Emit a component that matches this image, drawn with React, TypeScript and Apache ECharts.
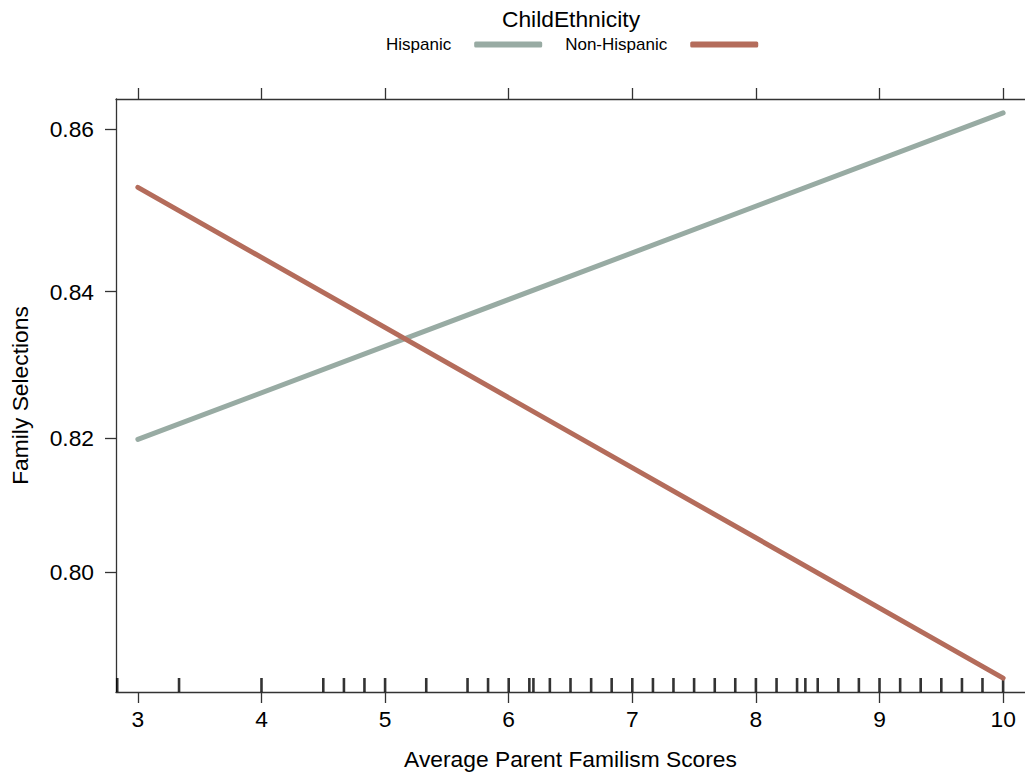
import React, { useEffect, useRef } from "react";
import * as echarts from "echarts";

const xPoints = [3, 10];
const hispanic = [0.8198, 0.8619];
const nonHispanic = [0.8531, 0.7831];
const rugValues = [
  2.833, 3.333, 4, 4.5, 4.667, 4.833, 5, 5.333, 5.667, 5.833, 6, 6.167, 6.2,
  6.333, 6.5, 6.667, 6.833, 7, 7.167, 7.333, 7.5, 7.667, 7.833, 8, 8.167, 8.333,
  8.4, 8.5, 8.667, 8.833, 9, 9.167, 9.333, 9.5, 9.667, 9.833, 10,
];
const xTicks = [3, 4, 5, 6, 7, 8, 9, 10];
const yTicks = [0.8, 0.82, 0.84, 0.86];
const seriesNames = ["Hispanic", "Non-Hispanic"];
const seriesColors = ["#98aba3", "#b46c5b"];
const legendTitle = "ChildEthnicity";
const xTitle = "Average Parent Familism Scores";
const yTitle = "Family Selections";
const xRange = [2.823, 10.177];
const yRange = [0.7808, 0.8635];

const logit = (p: number) => Math.log(p / (1 - p));
const invLogit = (v: number) => 1 / (1 + Math.exp(-v));

const FONT = "'Liberation Sans', Arial, Helvetica, sans-serif";
const AXIS_COLOR = "#333333";
const BIG = 22.8;

export default function App() {
  const ref = useRef<HTMLDivElement>(null);

  useEffect(() => {
    if (!ref.current) return;
    const chart = echarts.init(ref.current, undefined, { renderer: "svg" });
    const yMin = logit(yRange[0]);
    const yMax = logit(yRange[1]);
    const axisLine = { show: true, lineStyle: { color: AXIS_COLOR, width: 1.3 } };

    const option: any = {
      animation: false,
      backgroundColor: "#ffffff",
      textStyle: { fontFamily: FONT, color: "#000" },
      grid: { left: 115, top: 99, bottom: 83, right: -2, containLabel: false },
      graphic: [
        {
          type: "text",
          x: 571,
          y: 7,
          style: {
            text: legendTitle,
            fontSize: BIG,
            fontFamily: FONT,
            fill: "#000",
            align: "center",
            verticalAlign: "top",
          },
        },
      ],
      legend: {
        data: seriesNames,
        left: 386,
        top: 36,
        padding: 0,
        align: "right",
        itemWidth: 68,
        itemHeight: 6,
        itemGap: 23,
        icon: "roundRect",
        textStyle: { fontSize: 17, fontFamily: FONT, color: "#000", padding: [0, 18, 0, 0] },
        selectedMode: false,
      },
      xAxis: [
        {
          type: "value",
          position: "bottom",
          min: xRange[0],
          max: xRange[1],
          axisLine,
          splitLine: { show: false },
          axisTick: {
            show: true,
            inside: false,
            length: 11,
            customValues: xTicks,
            lineStyle: { color: AXIS_COLOR, width: 1.3 },
          },
          axisLabel: {
            show: true,
            customValues: xTicks,
            fontSize: BIG,
            margin: 15,
            color: "#000",
            fontFamily: FONT,
            formatter: (v: number) => String(Math.round(v)),
          },
          name: xTitle,
          nameLocation: "middle",
          nameGap: 55,
          nameTextStyle: { fontSize: BIG, color: "#000", fontFamily: FONT },
        },
        {
          type: "value",
          position: "top",
          min: xRange[0],
          max: xRange[1],
          axisLine,
          splitLine: { show: false },
          axisTick: {
            show: true,
            inside: false,
            length: 11,
            customValues: xTicks,
            lineStyle: { color: AXIS_COLOR, width: 1.3 },
          },
          axisLabel: { show: false },
        },
      ],
      yAxis: [
        {
          type: "value",
          position: "left",
          min: yMin,
          max: yMax,
          axisLine,
          splitLine: { show: false },
          axisTick: {
            show: true,
            inside: false,
            length: 11,
            customValues: yTicks.map(logit),
            lineStyle: { color: AXIS_COLOR, width: 1.3 },
          },
          axisLabel: {
            show: true,
            customValues: yTicks.map(logit),
            fontSize: BIG,
            margin: 22,
            color: "#000",
            fontFamily: FONT,
            formatter: (v: number) => invLogit(v).toFixed(2),
          },
          name: yTitle,
          nameLocation: "middle",
          nameGap: 85,
          nameRotate: 90,
          nameTextStyle: { fontSize: BIG, color: "#000", fontFamily: FONT },
        },
        {
          type: "value",
          position: "right",
          min: yMin,
          max: yMax,
          axisLine: { show: false },
          splitLine: { show: false },
          axisTick: { show: false },
          axisLabel: { show: false },
        },
      ],
      series: [
        {
          name: "rug",
          type: "scatter",
          xAxisIndex: 0,
          yAxisIndex: 0,
          symbol: "rect",
          symbolSize: [2.6, 14],
          symbolOffset: [0, -7],
          itemStyle: { color: "#000" },
          silent: true,
          clip: false,
          data: rugValues.map((v) => [v, yMin]),
        },
        {
          name: seriesNames[0],
          type: "line",
          xAxisIndex: 0,
          yAxisIndex: 0,
          showSymbol: false,
          symbol: "none",
          color: seriesColors[0],
          lineStyle: { width: 5, cap: "round", color: seriesColors[0] },
          data: xPoints.map((x, i) => [x, logit(hispanic[i])]),
        },
        {
          name: seriesNames[1],
          type: "line",
          xAxisIndex: 0,
          yAxisIndex: 0,
          showSymbol: false,
          symbol: "none",
          color: seriesColors[1],
          lineStyle: { width: 5, cap: "round", color: seriesColors[1] },
          data: xPoints.map((x, i) => [x, logit(nonHispanic[i])]),
        },
      ],
    };

    chart.setOption(option);
    return () => chart.dispose();
  }, []);

  return (
    <div
      ref={ref}
      style={{ position: "fixed", left: 0, top: 0, width: 1025, height: 775, background: "#fff" }}
    />
  );
}
